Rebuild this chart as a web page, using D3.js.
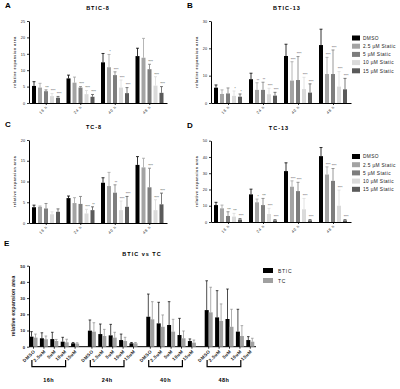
<!DOCTYPE html>
<html>
<head>
<meta charset="utf-8">
<script src="https://cdn.jsdelivr.net/npm/d3@7"></script>
<style>
  body { margin: 0; background: #fff; }
  text { font-family: "Liberation Sans", Arial, sans-serif; }
</style>
</head>
<body>
<script>
// data
const times = ["16 h", "24 h", "40 h", "48 h"];
const treatments = ["DMSO", "2.5 µM Static", "5 µM Static", "10 µM Static", "15 µM Static"];

const btic8Mean = [[5.2, 4.7, 3.6, 2.1, 1.6], [7.5, 6.2, 4.7, 2.7, 1.9], [12.4, 10.9, 8.5, 4.7, 3.0], [14.3, 13.8, 10.3, 5.3, 3.1]];
const btic8Err  = [[1.3, 1.3, 0.4, 0.8, 0.4], [1.0, 1.7, 0.3, 1.1, 0.7], [2.7, 3.9, 1.0, 2.3, 1.7], [2.4, 5.9, 1.5, 2.7, 1.9]];
const btic8Sig  = [["", "", "***", "****", "****"], ["", "", "****", "****", "****"], ["", "*", "****", "****", "****"], ["", "", "****", "****", "****"]];

const btic13Mean = [[5.6, 3.3, 3.5, 2.6, 2.3], [8.7, 4.8, 4.8, 3.2, 2.7], [17.2, 8.2, 8.4, 5.1, 3.8], [21.2, 10.6, 10.6, 6.0, 5.0]];
const btic13Err  = [[1.0, 1.5, 2.0, 1.8, 1.0], [2.2, 2.6, 2.8, 2.2, 1.2], [4.3, 6.9, 8.6, 4.3, 3.2], [5.8, 6.1, 8.8, 5.5, 4.0]];
const btic13Sig  = [["", "", "", "*", "*"], ["", "**", "**", "****", "****"], ["", "****", "****", "****", "****"], ["", "****", "****", "****", "****"]];

const tc8Mean = [[3.8, 3.9, 3.5, 2.1, 2.7], [6.0, 4.8, 4.6, 2.3, 3.1], [9.7, 8.9, 7.3, 3.1, 3.9], [14.0, 13.4, 8.6, 3.1, 4.5]];
const tc8Err  = [[0.5, 0.2, 1.2, 0.6, 0.7], [0.5, 1.3, 1.8, 1.0, 0.8], [1.2, 3.3, 1.9, 2.2, 2.5], [2.0, 2.2, 4.6, 2.5, 2.7]];
const tc8Sig  = [["", "", "", "", ""], ["", "", "", "****", "**"], ["", "", "**", "****", "****"], ["", "", "****", "****", "****"]];

const tc13Mean = [[10.4, 8.4, 3.7, 3.3, 1.5], [17.0, 12.1, 10.4, 4.9, 1.0], [31.3, 21.7, 19.0, 7.8, 1.0], [40.5, 29.2, 25.3, 10.0, 1.0]];
const tc13Err  = [[1.7, 2.0, 2.6, 2.0, 0.6], [3.2, 2.0, 4.1, 3.5, 0.5], [5.1, 3.6, 5.4, 6.7, 0.5], [5.3, 4.7, 7.6, 9.6, 0.5]];
const tc13Sig  = [["", "", "***", "***", "****"], ["", "*", "***", "****", "****"], ["", "****", "****", "****", "****"], ["", "****", "****", "****", "****"]];

const eTimes = ["16h", "24h", "40h", "48h"];
const eConds = ["DMSO", "2.5uM", "5uM", "10uM", "15uM"];
const eSeries = ["BTIC", "TC"];
const bticMean = [[6.2, 5.2, 4.7, 3.1, 2.1], [9.9, 7.8, 7.0, 4.1, 2.1], [18.5, 14.4, 13.4, 7.2, 3.5], [22.6, 18.1, 17.1, 9.3, 4.1]];
const bticErr  = [[3.1, 3.4, 4.2, 2.7, 0.5], [6.6, 6.2, 6.8, 3.7, 0.5], [14.0, 13.0, 14.4, 10.3, 1.3], [18.1, 16.5, 18.5, 13.8, 2.1]];
const tcMean   = [[5.6, 4.6, 3.5, 2.7, 1.9], [9.3, 6.6, 5.6, 3.5, 2.1], [16.9, 12.3, 9.3, 5.2, 2.5], [21.2, 15.9, 12.3, 6.6, 3.1]];
const tcErr    = [[2.2, 2.0, 1.0, 1.9, 0.5], [5.5, 4.1, 3.3, 2.3, 0.5], [10.9, 7.3, 7.6, 4.5, 1.6], [15.5, 10.5, 10.8, 6.4, 2.1]];

const barColors = ["#000000", "#a3a3a3", "#7d7d7d", "#dadada", "#5a5a5a"];
const eColors = ["#000000", "#a0a0a0"];

const svg = d3.select("body").append("svg")
  .attr("width", 400).attr("height", 389);

function styleAxis(g, size) {
  g.select(".domain").attr("stroke", "#000").attr("stroke-width", 1);
  g.selectAll(".tick line").attr("stroke", "#000").attr("stroke-width", 0.8);
  g.selectAll("text").attr("font-size", size).attr("fill", "#222")
    .style("font-family", "'Liberation Sans', Arial, sans-serif");
}

function panel(o) {
  const g = svg.append("g");
  const x = d3.scaleBand().domain(times).range([o.left, o.right]);
  const xc = d3.scaleBand().domain(treatments).range([3, 33]);
  const y = d3.scaleLinear().domain([0, o.max]).range([o.bottom, o.top]);

  g.append("text").attr("x", o.left - 24).attr("y", o.top - 13)
    .attr("font-size", 8).attr("font-weight", "bold").text(o.letter);
  g.append("text").attr("x", (o.left + o.right) / 2 + o.titleDx).attr("y", o.top - 11)
    .attr("text-anchor", "middle").attr("font-size", 5.5).attr("font-weight", "bold")
    .attr("letter-spacing", 1).text(o.title);

  g.append("text")
    .attr("transform", `translate(${o.left - 13},${(o.top + o.bottom) / 2}) rotate(-90)`)
    .attr("text-anchor", "middle").attr("font-size", 3.6).attr("font-weight", "bold")
    .attr("letter-spacing", 0.5).attr("fill", "#333").text("relative expansion area");

  const ya = g.append("g").attr("transform", `translate(${o.left},0)`)
    .call(d3.axisLeft(y).tickValues(o.ticks).tickSize(2).tickPadding(2).tickSizeOuter(0));
  styleAxis(ya, 3.8);

  const xa = g.append("g").attr("transform", `translate(0,${o.bottom})`)
    .call(d3.axisBottom(x).tickSize(2).tickSizeOuter(0));
  styleAxis(xa, 3.8);
  xa.selectAll("text").attr("text-anchor", "end").attr("x", -2).attr("y", 4).attr("dy", 0)
    .attr("transform", "rotate(-45)").attr("letter-spacing", 0.6);

  times.forEach((t, i) => {
    treatments.forEach((tr, j) => {
      const bx = x(t) + xc(tr);
      const m = o.mean[i][j], e = o.err[i][j];
      const cx = bx + 2;
      g.append("rect").attr("x", bx).attr("width", 4)
        .attr("y", y(m)).attr("height", y(0) - y(m)).attr("fill", barColors[j]);
      const col = j === 0 ? "#000" : barColors[j];
      g.append("line").attr("x1", cx).attr("x2", cx).attr("y1", y(m)).attr("y2", y(m + e))
        .attr("stroke", col).attr("stroke-width", 0.8);
      g.append("line").attr("x1", cx - 1.5).attr("x2", cx + 1.5).attr("y1", y(m + e)).attr("y2", y(m + e))
        .attr("stroke", col).attr("stroke-width", 0.8);
      if (o.sig[i][j]) {
        g.append("text").attr("x", cx + 1).attr("y", y(m + e) - 1.2)
          .attr("text-anchor", "middle").attr("font-size", 3).attr("fill", "#444")
          .text(o.sig[i][j]);
      }
    });
  });

  if (o.legendY !== undefined) {
    treatments.forEach((tr, j) => {
      const ly = o.legendY + j * 8.2;
      g.append("rect").attr("x", 352).attr("y", ly - 2.5).attr("width", 8).attr("height", 5)
        .attr("fill", barColors[j]);
      g.append("text").attr("x", 363).attr("y", ly + 1.8).attr("font-size", 4.8)
        .attr("letter-spacing", 0.35).attr("fill", "#222").text(tr);
    });
  }
}

panel({ letter: "A", title: "BTIC-8", left: 29, right: 167, top: 21, bottom: 103, max: 25,
  ticks: [0, 5, 10, 15, 20, 25], mean: btic8Mean, err: btic8Err, sig: btic8Sig, titleDx: 0 });
panel({ letter: "B", title: "BTIC-13", left: 211, right: 351, top: 21, bottom: 103, max: 30,
  ticks: [0, 10, 20, 30], mean: btic13Mean, err: btic13Err, sig: btic13Sig, titleDx: 6, legendY: 38 });
panel({ letter: "C", title: "TC-8", left: 29, right: 167, top: 140, bottom: 223, max: 20,
  ticks: [0, 5, 10, 15, 20], mean: tc8Mean, err: tc8Err, sig: tc8Sig, titleDx: -4 });
panel({ letter: "D", title: "TC-13", left: 211, right: 351, top: 140.7, bottom: 222, max: 50,
  ticks: [0, 10, 20, 30, 40, 50], mean: tc13Mean, err: tc13Err, sig: tc13Sig, titleDx: -2, legendY: 156.5 });

// panel E
(function () {
  const left = 29, axisEnd = 256, bottom = 346.7, top = 265.7;
  const g = svg.append("g");
  const x = d3.scaleBand().domain(eTimes).range([left, left + 4 * 58.4]);
  const xc = d3.scaleBand().domain(eConds).range([0, 52]);
  const xs = d3.scaleBand().domain(eSeries).range([0.5, 8.5]);
  const y = d3.scaleLinear().domain([0, 50]).range([bottom, top]);

  g.append("text").attr("x", 4).attr("y", 246).attr("font-size", 8).attr("font-weight", "bold").text("E");
  g.append("text").attr("x", 142).attr("y", 256).attr("text-anchor", "middle")
    .attr("font-size", 5.5).attr("font-weight", "bold").attr("letter-spacing", 1).text("BTIC vs TC");
  g.append("text")
    .attr("transform", `translate(15,${(top + bottom) / 2}) rotate(-90)`)
    .attr("text-anchor", "middle").attr("font-size", 5.5).attr("font-weight", "bold")
    .attr("fill", "#222").text("relative expansion area");

  const ya = g.append("g").attr("transform", `translate(${left},0)`)
    .call(d3.axisLeft(y).ticks(5).tickSize(2).tickPadding(2).tickSizeOuter(0));
  styleAxis(ya, 4.2);
  ya.selectAll("text").attr("font-weight", "bold");

  g.append("line").attr("x1", left).attr("x2", axisEnd).attr("y1", bottom).attr("y2", bottom)
    .attr("stroke", "#000").attr("stroke-width", 1);

  const series = [[bticMean, bticErr], [tcMean, tcErr]];
  eTimes.forEach((t, i) => {
    eConds.forEach((c, j) => {
      const cx = x(t) + xc(c) + 4.5;
      g.append("line").attr("x1", cx).attr("x2", cx).attr("y1", bottom).attr("y2", bottom + 2)
        .attr("stroke", "#000").attr("stroke-width", 0.8);
      g.append("text").attr("transform", `translate(${cx + 1},${bottom + 4}) rotate(-45)`)
        .attr("text-anchor", "end").attr("dy", "0.3em").attr("font-size", 4.6)
        .attr("font-weight", "bold").attr("letter-spacing", 0.4).attr("fill", "#222").text(c);
      eSeries.forEach((s, k) => {
        const m = series[k][0][i][j], e = series[k][1][i][j];
        const bx = x(t) + xc(c) + xs(s);
        const bw = xs.bandwidth();
        const col = k === 0 ? "#000" : "#8c8c8c";
        g.append("rect").attr("x", bx).attr("width", bw).attr("y", y(m))
          .attr("height", y(0) - y(m)).attr("fill", eColors[k]);
        g.append("line").attr("x1", bx + bw / 2).attr("x2", bx + bw / 2)
          .attr("y1", y(m)).attr("y2", y(m + e)).attr("stroke", col).attr("stroke-width", 0.7);
        g.append("line").attr("x1", bx + bw / 2 - 1.3).attr("x2", bx + bw / 2 + 1.3)
          .attr("y1", y(m + e)).attr("y2", y(m + e)).attr("stroke", col).attr("stroke-width", 0.7);
      });
    });
    const b0 = x(t) + xc("2.5uM") + 4.5 - 12;
    const b1 = x(t) + xc("15uM") + 4.5 - 9.5;
    g.append("path").attr("d", `M${b0},360 V366.7 H${b1} V360`)
      .attr("fill", "none").attr("stroke", "#000").attr("stroke-width", 1.2);
    g.append("text").attr("x", (b0 + b1) / 2).attr("y", 382).attr("text-anchor", "middle")
      .attr("font-size", 5.5).attr("font-weight", "bold").attr("letter-spacing", 0.5)
      .attr("fill", "#000").text(t);
  });

  eSeries.forEach((s, k) => {
    g.append("rect").attr("x", 263).attr("y", 268 + k * 10).attr("width", 10).attr("height", 5)
      .attr("fill", eColors[k]);
    g.append("text").attr("x", 278).attr("y", 272.5 + k * 10).attr("font-size", 5)
      .attr("letter-spacing", 0.7).attr("fill", "#222").text(s);
  });
})();
</script>
</body>
</html>
